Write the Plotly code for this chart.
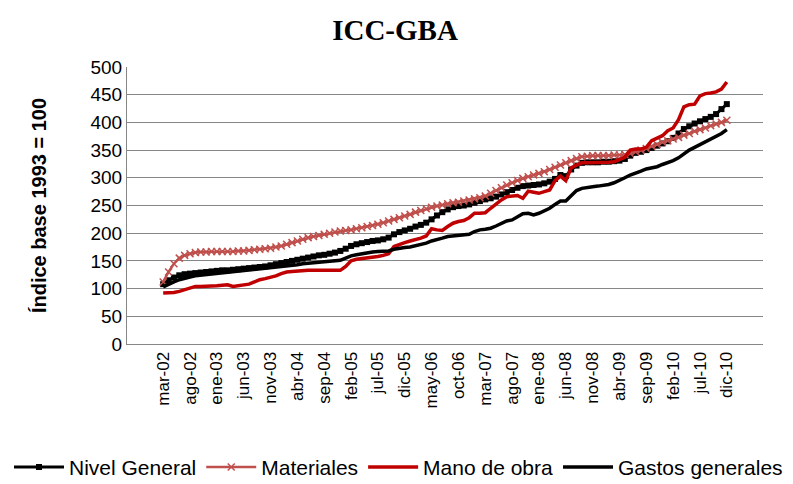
import plotly.graph_objects as go

meses = ['ene', 'feb', 'mar', 'abr', 'may', 'jun', 'jul', 'ago', 'sep', 'oct', 'nov', 'dic']
# mar-02 .. dic-10
periodos = [f'{m}-{a:02d}' for a in range(2, 11) for m in meses][2:]
etiquetas = periodos[::5]

nivel_general = [
    108, 115, 120, 124, 126, 127, 128, 129, 130, 131,
    132, 133, 133, 134, 135, 136, 137, 138, 139, 140,
    142, 144, 146, 148, 150, 152, 154, 156, 158, 160,
    161, 163, 165, 168, 172, 177, 180, 182, 184, 186,
    187, 189, 192, 198, 202, 205, 208, 212, 215, 219,
    225, 232, 238, 243, 247, 249, 250, 252, 255, 258,
    261, 263, 266, 270, 274, 278, 282, 285, 286, 287,
    288, 290, 293, 298, 305, 303, 315, 322, 327, 328,
    328, 328, 329, 329, 330, 331, 334, 340, 345, 347,
    350, 354, 358, 362, 366, 372, 380, 388, 393, 398,
    402, 406, 410, 415, 424, 433]

materiales = [
    112, 130, 145, 155, 160, 163, 165, 166, 166, 167,
    167, 167, 167, 167, 168, 168, 169, 170, 171, 172,
    173, 175, 177, 180, 183, 186, 189, 192, 194, 196,
    198, 200, 202, 204, 205, 206, 208, 210, 212, 214,
    216, 219, 222, 225, 228, 231, 234, 238, 241, 244,
    247, 249, 251, 253, 255, 256, 258, 260, 262, 264,
    267, 272, 277, 282, 287, 291, 295, 299, 302, 305,
    308, 311, 315, 319, 323, 327, 331, 335, 338, 339,
    340, 340, 340, 340, 341, 341, 342, 344, 347, 350,
    353, 357, 360, 364, 367, 370, 373, 377, 380, 384,
    387, 390, 394, 397, 400, 404]

mano_de_obra = [
    92, 92, 93, 95, 98, 102, 104, 104, 104, 104,
    105, 106, 107, 104, 105, 107, 108, 112, 116, 118,
    120, 123, 127, 130, 131, 132, 133, 133, 133, 133,
    133, 133, 133, 133, 140, 150, 153, 154, 155, 156,
    158, 160, 163, 176, 180, 183, 186, 188, 191, 195,
    208, 206, 205, 212, 218, 221, 223, 228, 236, 236,
    237, 245, 253, 260, 266, 267, 268, 263, 276, 274,
    272, 275, 278, 295, 303, 295, 318, 323, 327, 327,
    327, 327, 327, 328, 329, 333, 337, 350, 352, 352,
    355, 367, 372, 376, 385, 390, 405, 428, 432, 433,
    448, 452, 453, 455, 460, 473]

gastos_generales = [
    103, 108, 112, 116, 119, 121, 123, 124, 125, 126,
    127, 128, 129, 130, 131, 132, 133, 134, 136, 137,
    138, 139, 140, 141, 142, 143, 145, 146, 147, 148,
    149, 150, 150, 151, 155, 159, 161, 163, 165, 166,
    167, 168, 168, 171, 173, 174, 175, 177, 179, 182,
    186, 188, 191, 194, 195, 195, 196, 198, 203, 206,
    207, 209, 213, 218, 222, 224, 230, 235, 236, 233,
    236, 241, 245, 252, 258, 258, 268, 277, 281, 283,
    284, 285, 286, 288, 291, 295, 300, 305, 308, 312,
    316, 318, 320, 324, 327, 331, 336, 343, 350, 355,
    360, 365, 370, 375, 380, 387]

fig = go.Figure()
fig.add_trace(go.Scatter(x=periodos, y=nivel_general, name='Nivel General',
                         mode='lines+markers', line=dict(color='black', width=3),
                         marker=dict(symbol='square', size=6, color='black')))
fig.add_trace(go.Scatter(x=periodos, y=materiales, name='Materiales',
                         mode='lines+markers', line=dict(color='#C0504D', width=2.5),
                         marker=dict(symbol='x-thin', size=7,
                                     line=dict(color='#C0504D', width=1.5))))
fig.add_trace(go.Scatter(x=periodos, y=mano_de_obra, name='Mano de obra',
                         mode='lines', line=dict(color='#C00000', width=3.5)))
fig.add_trace(go.Scatter(x=periodos, y=gastos_generales, name='Gastos generales',
                         mode='lines', line=dict(color='black', width=3.5)))

# the page body adds an 8px offset; the figure is made larger than the window
# so the legend can use the whole visible width without wrapping
W, H = 950, 492
fig.update_layout(
    width=W, height=H,
    margin=dict(l=119, r=W - 755, t=59, b=H - 340),
    paper_bgcolor='white', plot_bgcolor='white',
    font=dict(family='Liberation Sans, Arial', size=16, color='black'),
    title=dict(text='<b>ICC-GBA</b>', x=387 / W, xanchor='center', y=1 - 22 / H, yanchor='middle',
               font=dict(family='Liberation Serif, Times New Roman', size=29)),
    showlegend=True,
    legend=dict(orientation='h', x=(780 - 119) / 636, xanchor='right',
                y=-0.445, yanchor='middle', font=dict(size=21), itemwidth=50,
                tracegroupgap=0),
)
fig.update_xaxes(type='category', tickmode='array', tickvals=etiquetas, ticktext=etiquetas,
                 tickangle=-90, showgrid=False, showline=True, linecolor='#868686',
                 linewidth=1, ticks='', tickfont=dict(size=17), automargin=False)
fig.update_yaxes(range=[0, 500], dtick=50, showgrid=True, gridcolor='#868686', gridwidth=1,
                 showline=True, linecolor='#868686', linewidth=1, zeroline=False,
                 tickfont=dict(size=19), automargin=False,
                 title=dict(text='<b>Índice base 1993 = 100</b>', font=dict(size=20), standoff=38))

fig.write_html("out.html")
